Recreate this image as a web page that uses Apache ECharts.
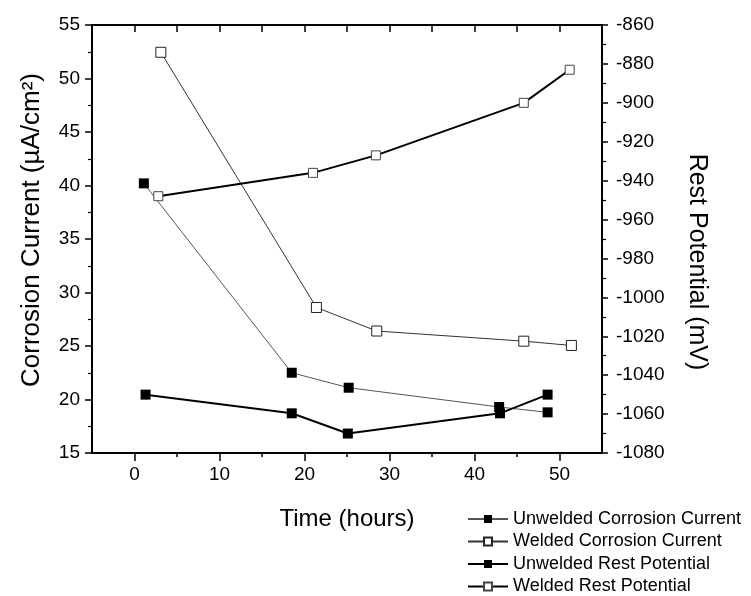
<!DOCTYPE html>
<html>
<head>
<meta charset="utf-8">
<script src="https://cdn.jsdelivr.net/npm/echarts@6/dist/echarts.min.js"></script>
<style>
html,body{margin:0;padding:0;background:#fff;}
#chart{width:751px;height:596px;}
</style>
</head>
<body>
<div id="chart"></div>
<script>
// ---- data ----
var unweldedCorrTime = [1.1, 18.5, 25.2, 42.9, 48.6];
var unweldedCorr = [40.2, 22.5, 21.1, 19.3, 18.8];
var weldedCorrTime = [3.1, 21.4, 28.5, 45.8, 51.4];
var weldedCorr = [52.45, 28.6, 26.4, 25.45, 25.05];
var unweldedRestTime = [1.3, 18.5, 25.1, 43.0, 48.6];
var unweldedRest = [-1050, -1059.6, -1070, -1059.6, -1050];
var weldedRestTime = [2.8, 21.0, 28.4, 45.8, 51.2];
var weldedRest = [-948, -936, -927, -900, -883];
var seriesNames = ['Unwelded Corrosion Current', 'Welded Corrosion Current', 'Unwelded Rest Potential', 'Welded Rest Potential'];
var xMajorTicks = [0, 10, 20, 30, 40, 50];
var xMinorTicks = [5, 15, 25, 35, 45];
var xTopTicks = [0, 5, 10, 15, 20, 25, 30, 35, 40, 45, 50];

function pairs(xs, ys) { return xs.map(function (x, i) { return [x, ys[i]]; }); }

var FONT = "'Liberation Sans', Arial, sans-serif";
var chart = echarts.init(document.getElementById('chart'));
chart.setOption({
  backgroundColor: '#fff',
  animation: false,
  textStyle: { fontFamily: FONT, color: '#000' },
  grid: { left: 92, right: 149, top: 25, bottom: 143, containLabel: false },
  legend: {
    orient: 'vertical',
    left: 467,
    top: 510,
    padding: 0,
    itemWidth: 40,
    itemHeight: 10,
    itemGap: 4.5,
    textStyle: { fontFamily: FONT, fontSize: 18, color: '#000', lineHeight: 18 },
    data: seriesNames
  },
  xAxis: [
    {
      type: 'value', position: 'bottom', min: -5, max: 55, interval: 5,
      axisLine: { show: true, onZero: false, lineStyle: { color: '#000', width: 2 } },
      axisTick: { show: true, customValues: xMajorTicks, length: 8, lineStyle: { color: '#000', width: 1.5 } },
      axisLabel: { show: true, customValues: xMajorTicks, fontSize: 19, margin: 12, color: '#000', fontFamily: FONT },
      splitLine: { show: false },
      name: 'Time (hours)', nameLocation: 'middle', nameGap: 54,
      nameTextStyle: { fontSize: 24, color: '#000', fontFamily: FONT }
    },
    {
      type: 'value', position: 'bottom', min: -5, max: 55, interval: 5,
      axisLine: { show: false, onZero: false },
      axisTick: { show: true, customValues: xMinorTicks, length: 4, lineStyle: { color: '#000', width: 1.5 } },
      axisLabel: { show: false },
      splitLine: { show: false }
    },
    {
      type: 'value', position: 'top', min: -5, max: 55, interval: 5,
      axisLine: { show: true, onZero: false, lineStyle: { color: '#000', width: 2 } },
      axisTick: { show: true, inside: true, customValues: xTopTicks, length: 7, lineStyle: { color: '#000', width: 1.5 } },
      axisLabel: { show: false },
      splitLine: { show: false }
    }
  ],
  yAxis: [
    {
      type: 'value', position: 'left', min: 15, max: 55, interval: 5,
      axisLine: { show: true, onZero: false, lineStyle: { color: '#000', width: 2 } },
      axisTick: { show: true, length: 7, lineStyle: { color: '#000', width: 1.5 } },
      minorTick: { show: true, splitNumber: 2, length: 4, lineStyle: { color: '#000', width: 1.2 } },
      axisLabel: { fontSize: 19, margin: 12, color: '#000', fontFamily: FONT, formatter: function (v) { return String(v); } },
      splitLine: { show: false },
      name: 'Corrosion Current (\u00b5A/cm\u00b2)', nameLocation: 'middle', nameRotate: 90, nameGap: 47,
      nameTextStyle: { fontSize: 26, color: '#000', fontFamily: FONT, padding: [0, 0, 0, 18] }
    },
    {
      type: 'value', position: 'right', min: -1080, max: -860, interval: 20,
      axisLine: { show: true, onZero: false, lineStyle: { color: '#000', width: 2 } },
      axisTick: { show: true, length: 6, lineStyle: { color: '#000', width: 1.5 } },
      minorTick: { show: true, splitNumber: 2, length: 4, lineStyle: { color: '#000', width: 1.2 } },
      axisLabel: { fontSize: 19, margin: 14, color: '#000', fontFamily: FONT, formatter: function (v) { return String(v); } },
      splitLine: { show: false },
      name: 'Rest Potential (mV)', nameLocation: 'middle', nameRotate: -90, nameGap: 82,
      nameTextStyle: { fontSize: 25, color: '#000', fontFamily: FONT, padding: [0, 0, 0, 46] }
    }
  ],
  series: [
    {
      name: seriesNames[0], type: 'line', xAxisIndex: 0, yAxisIndex: 0,
      data: pairs(unweldedCorrTime, unweldedCorr),
      symbol: 'rect', symbolSize: 10, showAllSymbol: true,
      lineStyle: { color: '#555', width: 1 },
      itemStyle: { color: '#000', borderColor: '#000', borderWidth: 0 },
      z: 3
    },
    {
      name: seriesNames[1], type: 'line', xAxisIndex: 0, yAxisIndex: 0,
      data: pairs(weldedCorrTime, weldedCorr),
      symbol: 'rect', symbolSize: 10, showAllSymbol: true,
      lineStyle: { color: '#333', width: 1 },
      itemStyle: { color: '#fff', borderColor: '#222', borderWidth: 1 },
      z: 3
    },
    {
      name: seriesNames[2], type: 'line', xAxisIndex: 0, yAxisIndex: 1,
      data: pairs(unweldedRestTime, unweldedRest),
      symbol: 'rect', symbolSize: 10, showAllSymbol: true,
      lineStyle: { color: '#000', width: 2 },
      itemStyle: { color: '#000', borderColor: '#000', borderWidth: 0 },
      z: 4
    },
    {
      name: seriesNames[3], type: 'line', xAxisIndex: 0, yAxisIndex: 1,
      data: pairs(weldedRestTime, weldedRest),
      symbol: 'rect', symbolSize: 9, showAllSymbol: true,
      lineStyle: { color: '#000', width: 2 },
      itemStyle: { color: '#fff', borderColor: '#444', borderWidth: 1 },
      z: 4
    }
  ]
});
</script>
</body>
</html>
